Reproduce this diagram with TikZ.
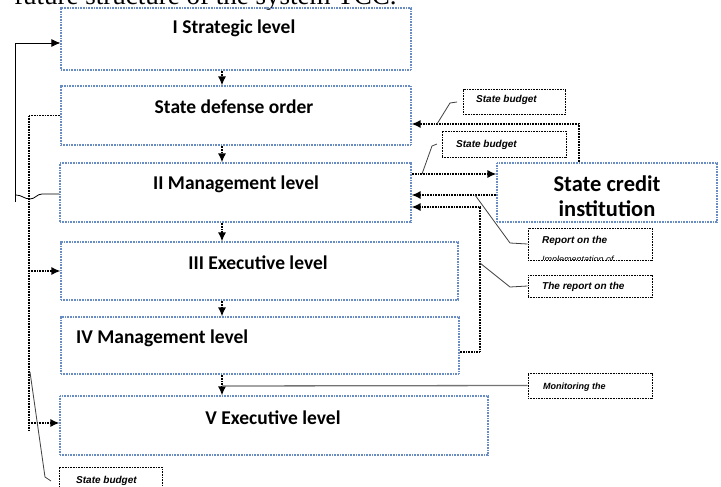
\documentclass[tikz,border=0pt]{standalone}
\usepackage{fontspec}
\setmainfont{Liberation Serif}
\newfontfamily\calfont{Carlito}
\newfontfamily\tagfont{Liberation Sans}
\usetikzlibrary{arrows.meta}
\definecolor{lvlblue}{RGB}{105,140,195}
\begin{document}
\begin{tikzpicture}[x=1pt,y=-1pt,
  lvl/.style={draw=lvlblue, dash pattern=on 1pt off 0.6pt, line width=1.2pt, inner sep=0pt},
  tagbox/.style={draw=black, dash pattern=on 1pt off 0.6pt, line width=1pt, inner sep=0pt},
  title/.style={font=\calfont\bfseries\fontsize{19.5}{23}\selectfont, inner sep=0pt},
  small/.style={font=\tagfont\bfseries\itshape\fontsize{10}{12}\selectfont, inner sep=0pt, anchor=west},
  conn/.style={draw=black, line width=1.3pt, dash pattern=on 1pt off 0.6pt, -{Latex[length=9pt,width=8pt]}},
  plain/.style={draw=black, line width=1.3pt, dash pattern=on 1pt off 0.6pt},
  thin/.style={draw=black, line width=0.8pt},
  leader/.style={draw=black!75, line width=0.8pt}]
\useasboundingbox (0,0) rectangle (721,487);
\clip (0,0) rectangle (721,487);

% header (cut off at the top edge, as in the reference)
\node[font=\fontsize{27}{30}\selectfont, anchor=base west, inner sep=0pt] (hdr) at (14,4.5) {future structure of the system TCC.};

% level boxes
\node[lvl, minimum width=350pt, minimum height=62pt] (b1) at (236,39) {};
\node[lvl, minimum width=350pt, minimum height=59pt] (b2) at (236,115.5) {};
\node[lvl, minimum width=351pt, minimum height=59pt] (b3) at (235.5,192.5) {};
\node[lvl, minimum width=397pt, minimum height=58pt] (b4) at (259.5,271) {};
\node[lvl, minimum width=398pt, minimum height=57pt] (b5) at (260,345.5) {};
\node[lvl, minimum width=428pt, minimum height=59pt] (b6) at (274,425.5) {};
\node[lvl, minimum width=220pt, minimum height=59pt] (sci) at (607,192.5) {};

\node[title] (t1) at (234,28) {I Strategic level};
\node[title] (t2) at (234,107) {State defense order};
\node[title] (t3) at (236,184) {II Management level};
\node[title] (t4) at (258,263) {III Executive level};
\node[title, anchor=west] (t5) at (76,338) {IV Management level};
\node[title] (t6) at (273,418) {V Executive level};
\node[font=\calfont\bfseries\fontsize{22.5}{25}\selectfont, align=center, inner sep=0pt] (tsci) at (607,196) {State credit\\institution};

% tag boxes
\node[tagbox, minimum width=102pt, minimum height=25pt] (sb1) at (514,102.5) {};
\node[tagbox, minimum width=124pt, minimum height=26pt] (sb2) at (504,144) {};
\node[tagbox, minimum width=124pt, minimum height=32pt] (rep1) at (590,244) {};
\node[tagbox, minimum width=124pt, minimum height=22pt] (rep2) at (590,286) {};
\node[tagbox, minimum width=124pt, minimum height=25pt] (mon) at (590,385.5) {};
\node[tagbox, minimum width=103pt, minimum height=28pt] (sb3) at (110.5,481) {};

\node[small] (l1) at (476,100) {State budget};
\node[small] (l2) at (456,145) {State budget};
\node[small] (l3) at (542,241) {Report on the};
\begin{scope}
  \clip ([shift={(1,-1)}]rep1.south west) rectangle (rep1.north east);
  \node[small, font=\tagfont\itshape\fontsize{9}{10}\selectfont, anchor=base west] (l3b) at (542,262) {Implementation of};
\end{scope}
\node[small] (l4) at (542,287) {The report on the};
\node[small, font=\tagfont\bfseries\itshape\fontsize{9}{10}\selectfont] (l5) at (543,387) {Monitoring the};
\node[small] (l6) at (76,481) {State budget};

% helper coordinates
\coordinate (ax) at (222,0);
\coordinate (p1) at (579,124);
\coordinate (p2) at (0,174);
\coordinate (p3) at (0,195);
\coordinate (p4) at (480,207);
\coordinate (p5) at (480,352);
\coordinate (lx) at (29,0);
\coordinate (ox) at (15,43);

% vertical chain
\draw[conn] (b1.south -| ax) -- (b2.north -| ax);
\draw[conn] (b2.south -| ax) -- (b3.north -| ax);
\draw[conn] (b3.south -| ax) -- (b4.north -| ax);
\draw[conn] (b4.south -| ax) -- (b5.north -| ax);
\draw[conn] (b5.south -| ax) -- (b6.north -| ax);

% right side
\draw[conn] (sci.north -| p1) |- (b2.east |- p1);
\draw[conn] (b3.east |- p2) -- (sci.west |- p2);
\draw[conn] (sci.west |- p3) -- (b3.east |- p3);
\draw[conn] (b5.east |- p5) -| (p4) -- (b3.east |- p4);

% leaders
\coordinate (q1) at (437,124);
\coordinate (q1e) at (457,102);
\draw[leader] (q1) -- (450,103) -- (q1e);
\coordinate (q2) at (422,174);
\coordinate (q2e) at (437,144);
\draw[leader] (q2) -- (432,146) -- (q2e);
\coordinate (q3) at (475,195);
\draw[leader] (q3) -- (510,243) -- (rep1.west);
\coordinate (q4) at (480,263);
\draw[leader] (q4) -- (510,287) -- (rep2.west);
\coordinate (q5) at (222,386);
\draw[draw=black!55, line width=1.3pt] (mon.west) -- (q5);

% left side inner bus
\draw[plain] (b2.west) -| (29,430);
\draw[conn] (lx |- b4.west) -- (b4.west);
\coordinate (p6) at (0,423);
\draw[conn] (lx |- p6) -- (b6.west |- p6);
\coordinate (q6) at (30,372);
\coordinate (q6e) at (51,481);
\draw[leader] (q6) -- (45,477) -- (q6e);

% left side outer loop
\coordinate (p7) at (0,194);
\draw[thin] (b3.west |- p7) -- (42,194) to[out=180,in=0] (30,199) to[out=180,in=0] (16,195);
\draw[thin] (15,202) -- (ox);
\draw[thin, -{Latex[length=9pt,width=8pt]}] (ox) -- (b1.west |- ox);
\end{tikzpicture}
\end{document}
